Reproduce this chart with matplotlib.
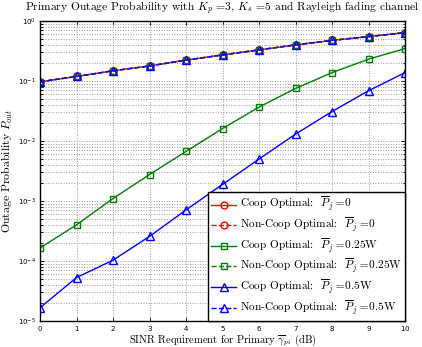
import matplotlib
matplotlib.use("Agg")
import matplotlib.pyplot as plt
from matplotlib.ticker import LogLocator, NullFormatter, FixedLocator

plt.rcParams['mathtext.fontset'] = 'cm'
plt.rcParams['axes.formatter.use_mathtext'] = True

x = [0, 1, 2, 3, 4, 5, 6, 7, 8, 9, 10]
top_curve = [0.097, 0.119, 0.148, 0.178, 0.223, 0.272, 0.33, 0.40, 0.475, 0.55, 0.64]
coop_025 = [1.65e-4, 4.0e-4, 1.1e-3, 2.76e-3, 6.7e-3, 0.0161, 0.0368, 0.075, 0.138, 0.231, 0.347]
coop_05 = [1.66e-5, 5.3e-5, 1.03e-4, 2.57e-4, 7.1e-4, 1.89e-3, 5.0e-3, 0.013, 0.031, 0.0687, 0.138]

labels = [r"Coop Optimal:  $\overline{P}_j$ =0",
          r"Non-Coop Optimal:  $\overline{P}_j$ =0",
          r"Coop Optimal:  $\overline{P}_j$ =0.25W",
          r"Non-Coop Optimal:  $\overline{P}_j$ =0.25W",
          r"Coop Optimal:  $\overline{P}_j$ =0.5W",
          r"Non-Coop Optimal:  $\overline{P}_j$ =0.5W"]

fig = plt.figure(figsize=(4.22, 3.47), dpi=100)
ax = fig.add_axes([40/422, 1-321/347, 365/422, 300/347])

serif = ['cmr10', 'DejaVu Serif']
ms = 5
ax.plot(x, top_curve, '-', color='red', marker='o', mfc='none', ms=ms, lw=1, label=labels[0])
ax.plot(x, top_curve, '--', color='red', marker='o', mfc='none', ms=ms, lw=1, label=labels[1])
ax.plot(x, coop_025, '-', color='#008000', marker='s', mfc='none', ms=ms, lw=1, label=labels[2])
ax.plot(x, top_curve, '--', color='#008000', marker='s', mfc='none', ms=ms, lw=1, label=labels[3])
ax.plot(x, coop_05, '-', color='blue', marker='^', mfc='none', ms=ms+1, lw=1, label=labels[4])
ax.plot(x, top_curve, '--', color='blue', marker='^', mfc='none', ms=ms+1, lw=1, label=labels[5])

ax.set_yscale('log')
ax.set_xlim(0, 10)
ax.set_ylim(1e-5, 1)
ax.xaxis.set_major_locator(FixedLocator(x))
ax.yaxis.set_major_locator(LogLocator(base=10, numticks=10))
ax.yaxis.set_minor_locator(LogLocator(base=10, subs=range(2, 10), numticks=20))
ax.yaxis.set_minor_formatter(NullFormatter())
ax.tick_params(which='both', direction='in', top=True, right=True, labelsize=5, width=0.6)
ax.tick_params(which='major', length=3, pad=3)
ax.tick_params(axis='x', which='major', pad=2)
ax.tick_params(which='minor', length=1.8)
ax.grid(True, which='major', linestyle=':', color='#999999', lw=0.7)
ax.grid(True, which='minor', axis='y', linestyle=':', color='#999999', lw=0.7)
for s in ax.spines.values():
    s.set_linewidth(1.0)

ax.set_title(r"Primary Outage Probability with $K_p$ =3, $K_s$ =5 and Rayleigh fading channel",
             fontsize=8.3, family=serif, pad=7)
ax.set_xlabel(r"SINR Requirement for Primary $\overline{\gamma}_{pi}$ (dB)", fontsize=7.6, family=serif)
ax.set_ylabel(r"Outage Probability $P_{out}$", fontsize=8.5, family=serif)
ax.xaxis.set_label_coords(0.5, -0.04)
ax.yaxis.set_label_coords(-0.068, 0.5)

leg = ax.legend(loc='lower right', prop={'family': serif, 'size': 8.1}, fancybox=False,
                edgecolor='black', framealpha=1, borderaxespad=0, handlelength=2.2,
                handletextpad=0.3, labelspacing=0.12, borderpad=0.3)
leg.get_frame().set_linewidth(1.0)

fig.savefig('out.png', dpi=100)
